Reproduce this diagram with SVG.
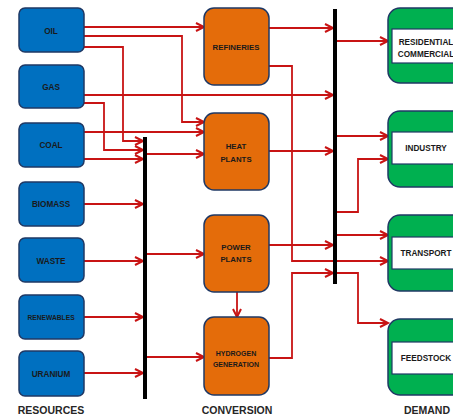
<svg xmlns="http://www.w3.org/2000/svg" width="453" height="417" viewBox="0 0 453 417">
<style>
.res{fill:#0070C0;stroke:#1F3864;stroke-width:1.5}
.conv{fill:#E46C0A;stroke:#1F3864;stroke-width:1.5}
.dem{fill:#00B050;stroke:#1F3864;stroke-width:1.5}
.inner{fill:#FFFFFF;stroke:#1F3864;stroke-width:1.2}
.bus{fill:#000000}
.t{font-family:"Liberation Sans",Arial,sans-serif;font-weight:bold;fill:#1A1A1A;text-anchor:middle}
.nt{font-size:8.2px}
.ot{font-size:7.8px}
.hd{font-size:10.5px;fill:#262626}
.c{fill:none;stroke:#C81414;stroke-width:1.8;marker-end:url(#ah)}
</style>
<defs>
<marker id="ah" markerUnits="userSpaceOnUse" markerWidth="12" markerHeight="12" refX="9" refY="5" orient="auto" viewBox="0 0 12 10">
<path d="M1,1 L9,5 L1,9" fill="none" stroke="#C81414" stroke-width="2"/>
</marker>
</defs>
<g id="connectors">
<path class="c" d="M84,27 H204"/>
<path class="c" d="M84,36 H182 V122 H204"/>
<path class="c" d="M84,47 H123 V141 H143"/>
<path class="c" d="M84,95 H333"/>
<path class="c" d="M84,103 H104 V150 H143"/>
<path class="c" d="M84,132 H204"/>
<path class="c" d="M84,159 H143"/>
<path class="c" d="M147,154 H204"/>
<path class="c" d="M84,204 H143"/>
<path class="c" d="M84,261 H143"/>
<path class="c" d="M84,317 H143"/>
<path class="c" d="M84,373 H143"/>
<path class="c" d="M147,254 H204"/>
<path class="c" d="M147,357 H204"/>
<path class="c" d="M269,28 H333"/>
<path class="c" d="M269,66 H292 V261 H388"/>
<path class="c" d="M269,151 H333"/>
<path class="c" d="M269,245 H333"/>
<path class="c" d="M237,292 V317"/>
<path class="c" d="M269,358 H292 V273 H333"/>
<path class="c" d="M337,41 H388"/>
<path class="c" d="M337,136 H388"/>
<path class="c" d="M337,212 H358 V159 H388"/>
<path class="c" d="M337,235 H388"/>
<path class="c" d="M337,273 H358 V323 H388"/>
</g>
<g id="bus1"><rect class="bus" x="143" y="137" width="4" height="262"/></g>
<g id="bus2"><rect class="bus" x="333" y="9" width="4" height="275"/></g>
<g id="oil"><rect class="res" x="19" y="8" width="65" height="44" rx="6"/><text class="t nt" x="51" y="33.5">OIL</text></g>
<g id="gas"><rect class="res" x="19" y="65" width="65" height="43" rx="6"/><text class="t nt" x="51" y="90">GAS</text></g>
<g id="coal"><rect class="res" x="19" y="123" width="65" height="44" rx="6"/><text class="t nt" x="51" y="148">COAL</text></g>
<g id="biomass"><rect class="res" x="19" y="182" width="65" height="44" rx="6"/><text class="t nt" x="51" y="207">BIOMASS</text></g>
<g id="waste"><rect class="res" x="19" y="238" width="65" height="44" rx="6"/><text class="t nt" x="51" y="264">WASTE</text></g>
<g id="renewables"><rect class="res" x="19" y="295" width="65" height="44" rx="6"/><text class="t" style="font-size:6.7px" x="51" y="319.5">RENEWABLES</text></g>
<g id="uranium"><rect class="res" x="19" y="351" width="65" height="45" rx="6"/><text class="t nt" x="51" y="377">URANIUM</text></g>
<g id="refineries"><rect class="conv" x="204" y="8" width="65" height="77" rx="10"/><text class="t ot" x="236" y="49.5">REFINERIES</text></g>
<g id="heat"><rect class="conv" x="204" y="113" width="65" height="77" rx="10"/><text class="t ot" x="236" y="148.5">HEAT</text><text class="t ot" x="236" y="162">PLANTS</text></g>
<g id="power"><rect class="conv" x="204" y="215" width="65" height="77" rx="10"/><text class="t ot" x="236" y="249.5">POWER</text><text class="t ot" x="236" y="262">PLANTS</text></g>
<g id="hydrogen"><rect class="conv" x="204" y="317" width="65" height="78" rx="10"/><text class="t" style="font-size:7px" x="236" y="356">HYDROGEN</text><text class="t" style="font-size:7px" x="236" y="366.5">GENERATION</text></g>
<g id="residential"><rect class="dem" x="388" y="8" width="85" height="75" rx="12"/><rect class="inner" x="392" y="29" width="75" height="34"/><text class="t nt" x="426" y="44.5">RESIDENTIAL</text><text class="t nt" x="426" y="57">COMMERCIAL</text></g>
<g id="industry"><rect class="dem" x="388" y="111" width="85" height="76" rx="12"/><rect class="inner" x="392" y="132" width="75" height="32"/><text class="t nt" x="426" y="151">INDUSTRY</text></g>
<g id="transport"><rect class="dem" x="388" y="215" width="85" height="76" rx="12"/><rect class="inner" x="392" y="237" width="75" height="32"/><text class="t nt" x="426" y="256">TRANSPORT</text></g>
<g id="feedstock"><rect class="dem" x="388" y="319" width="85" height="76" rx="12"/><rect class="inner" x="392" y="342" width="75" height="32"/><text class="t nt" x="426" y="361">FEEDSTOCK</text></g>
<g id="labels">
<text class="t hd" x="51" y="414">RESOURCES</text>
<text class="t hd" x="237" y="414">CONVERSION</text>
<text class="t hd" x="427" y="414">DEMAND</text>
</g>
</svg>
